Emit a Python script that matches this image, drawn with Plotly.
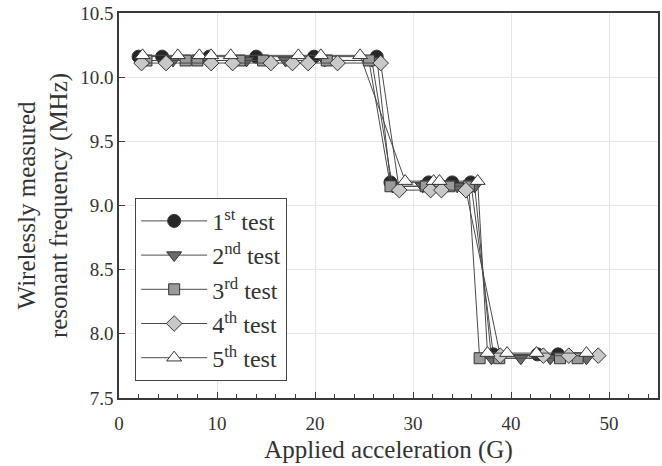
import plotly.graph_objects as go

# Applied acceleration (G) and wirelessly measured resonant frequency (MHz) per test run
test1_x = [2.0, 4.4, 9.2, 14.0, 19.9, 26.3, 27.7, 31.6, 34.0, 35.9, 38.2, 42.7, 44.8]
test1_y = [10.16, 10.16, 10.16, 10.16, 10.16, 10.16, 9.18, 9.18, 9.18, 9.18, 7.84, 7.84, 7.84]

test2_x = [2.6, 5.5, 9.0, 13.0, 17.0, 21.0, 25.8, 27.9, 31.0, 34.5, 36.3, 38.0, 41.0, 44.0, 47.7]
test2_y = [10.13, 10.13, 10.13, 10.13, 10.13, 10.13, 10.13, 9.15, 9.15, 9.15, 9.15, 7.81, 7.81, 7.81, 7.81]

test3_x = [2.8, 6.8, 8.0, 12.3, 14.7, 21.2, 25.5, 27.7, 31.3, 33.7, 35.7, 36.8, 38.8, 45.0, 46.8]
test3_y = [10.13, 10.13, 10.13, 10.13, 10.13, 10.13, 10.13, 9.15, 9.15, 9.15, 9.15, 7.81, 7.81, 7.81, 7.81]

test4_x = [2.3, 4.8, 9.4, 11.6, 15.5, 17.7, 19.3, 22.3, 26.7, 28.6, 31.8, 32.9, 35.4, 38.9, 43.3, 45.9, 48.9]
test4_y = [10.11, 10.11, 10.11, 10.11, 10.11, 10.11, 10.11, 10.11, 10.11,
           9.12, 9.12, 9.12, 9.12, 7.83, 7.83, 7.83, 7.83]

test5_x = [2.4, 6.0, 8.2, 9.4, 11.4, 18.3, 20.6, 24.6, 29.2, 32.1, 32.7, 36.6, 37.6, 39.6, 42.6, 47.7]
test5_y = [10.17, 10.17, 10.17, 10.17, 10.17, 10.17, 10.17, 10.17,
           9.19, 9.19, 9.19, 9.19, 7.85, 7.85, 7.85, 7.85]

series_names = ["1<sup>st</sup> test", "2<sup>nd</sup> test", "3<sup>rd</sup> test",
                "4<sup>th</sup> test", "5<sup>th</sup> test"]

x_ticks = [0, 10, 20, 30, 40, 50]
y_ticks = [7.5, 8.0, 8.5, 9.0, 9.5, 10.0, 10.5]

SERIF = "Liberation Serif, Times New Roman, serif"
LINE = "#4a4a4a"
TEXT = "#333333"

styles = [
    dict(symbol="circle", size=13, color="#262626"),
    dict(symbol="triangle-down", size=13, color="#6a6a6a"),
    dict(symbol="square", size=11, color="#9a9a9a"),
    dict(symbol="diamond", size=12, color="#c8c8c8"),
    dict(symbol="triangle-up", size=13, color="#ffffff"),
]

data = [(test1_x, test1_y), (test2_x, test2_y), (test3_x, test3_y),
        (test4_x, test4_y), (test5_x, test5_y)]

fig = go.Figure()
for (xs, ys), name, st in zip(data, series_names, styles):
    fig.add_trace(go.Scatter(
        x=xs, y=ys, mode="lines+markers", name=name,
        line=dict(color=LINE, width=1),
        marker=dict(symbol=st["symbol"], size=st["size"], color=st["color"],
                    line=dict(color="#333333", width=1)),
    ))

axis_common = dict(
    showline=True, linecolor="#3a3a3a", linewidth=1.5, mirror=True,
    ticks="inside", tickcolor="#3a3a3a", tickwidth=1.2,
    showgrid=True, gridcolor="#e6e6e6", gridwidth=1,
    zeroline=False,
    tickfont=dict(family=SERIF, size=19, color=TEXT),
)

fig.update_xaxes(
    range=[0, 55], tickvals=x_ticks, ticklen=6, ticklabelstandoff=7,
    minor=dict(dtick=2, tick0=0, ticks="inside", ticklen=4, tickcolor="#3a3a3a", showgrid=False),
    title=dict(text="Applied acceleration (G)", font=dict(family=SERIF, size=25, color=TEXT),
               standoff=8),
    **axis_common,
)
fig.update_yaxes(
    range=[7.5, 10.5], tickvals=y_ticks, ticktext=[f"{v:.1f}" for v in y_ticks], ticklen=6,
    title=dict(text="Wirelessly measured<br>resonant frequency (MHz)",
               font=dict(family=SERIF, size=25, color=TEXT), standoff=5),
    **axis_common,
)

fig.update_layout(
    width=662, height=466,
    margin=dict(l=119, r=2, t=13, b=68),
    plot_bgcolor="white", paper_bgcolor="white",
    legend=dict(
        x=0.03, y=0.52, xanchor="left", yanchor="top",
        bgcolor="white", bordercolor="#444444", borderwidth=1,
        font=dict(family=SERIF, size=24, color=TEXT),
        itemwidth=66,
    ),
)

fig.write_html("out.html")
